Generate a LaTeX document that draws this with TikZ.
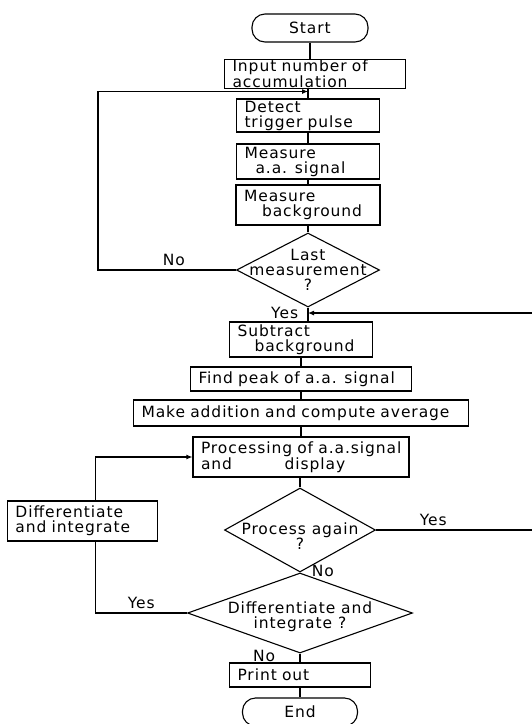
\documentclass[tikz,border=0pt]{standalone}
\usepackage{fontspec}
\setmainfont{DejaVu Sans}[LetterSpace=6]
\usepackage{tikz}
\usetikzlibrary{shapes.geometric, arrows.meta}

\begin{document}
\begin{tikzpicture}[x=1pt, y=-1pt, line width=1.1pt,
    every node/.style={font=\fontsize{15.5}{15}\selectfont},
    procbox/.style={draw, rectangle, align=left, inner xsep=8pt, inner ysep=0.5pt},
    termbox/.style={draw, rectangle, rounded corners=13pt, minimum width=116pt, minimum height=28pt},
    decision/.style={draw, diamond, inner sep=0pt},
    arrow/.style={-{Latex[length=6pt, width=5pt]}}]

    \useasboundingbox (0,0) rectangle (531,724);

    % accumulation loop
    \node[termbox] (start) at (310,28) {Start};
    \node[procbox, text width=165pt, minimum height=28pt] (input) at (315,74) {Input number of\\accumulation};
    \node[procbox, text width=127pt, minimum height=33pt] (detect) at (308,115.5) {Detect\\trigger pulse};
    \node[procbox, text width=127pt, minimum height=35pt] (sigmeas) at (308,161.5) {Measure\\\hspace*{11pt}a.a. signal};
    \node[procbox, text width=128pt, minimum height=40pt] (bgmeas) at (308,205) {Measure\\\hspace*{18pt}background};
    \node[decision, minimum width=143pt, minimum height=74pt,
          label={[align=center]center:Last\\measurement\\?}] (lastq) at (308,270) {};

    % evaluation
    \node[procbox, text width=127pt, minimum height=35pt] (subtract) at (301,339.5) {Subtract\\\hspace*{17pt}background};
    \node[procbox, text width=205pt, minimum height=24pt] (findpeak) at (301,379) {Find peak of a.a. signal};
    \node[procbox, text width=319pt, minimum height=26pt] (addavg) at (301,413) {Make addition and compute average};
    \node[procbox, text width=200pt, minimum height=40pt] (process) at (301,457) {Processing of a.a.signal\\and\hspace{3.4em}display};
    \node[decision, minimum width=151pt, minimum height=84pt,
          label={[align=center, yshift=-6pt]center:Process again\\?}] (again) at (300,530) {};
    \node[decision, minimum width=225pt, minimum height=80pt,
          label={[align=center, yshift=-4pt]center:Differentiate and\\integrate ?}] (diffq) at (300,613) {};
    \node[procbox, text width=134pt, minimum height=40pt] (diffbox) at (82.5,521) {Differentiate\\and integrate};
    \node[procbox, text width=125pt, minimum height=24pt] (print) at (300,675) {Print out};
    \node[termbox, minimum width=115pt] (stop) at (300,712) {End};

    \coordinate (loopin) at (308,91.5);
    \coordinate (yesin) at (308,313);
    \coordinate (rtrn) at (535,313);

    % main line
    \draw (start.south) -- (start.south |- input.north);
    \draw (detect.north |- input.south) -- (detect.north);
    \draw (detect) -- (sigmeas);
    \draw (sigmeas) -- (bgmeas);
    \draw (bgmeas) -- (lastq);
    \draw (lastq.south) -- node[left, pos=0.4, xshift=-6pt] (lastyes) {Yes} (lastq.south |- subtract.north);
    \draw (subtract.south -| findpeak.north) -- (findpeak.north);
    \draw (findpeak) -- (addavg);
    \draw (addavg) -- (process);
    \draw (again.north |- process.south) -- (again.north);
    \draw (diffq.south) -- (print);
    \draw (print) -- (stop);

    % branches
    \draw[arrow] (lastq.west) -- node[above, pos=0.45] (lastno) {No} ++(-138,0) |- (loopin);
    \draw[arrow] (again.east) -| node[above, pos=0.18] (againyes) {Yes} (rtrn) -- (yesin);
    \node[anchor=west] (againno) at ([xshift=8pt, yshift=2pt]again.south) {No};
    \draw (diffq.west) -| node[above, pos=0.25] (diffyes) {Yes} ([xshift=13pt]diffbox.south);
    \draw[arrow] ([xshift=13pt]diffbox.north) |- (process.west);
    \node[anchor=east] (diffno) at ([xshift=-21pt, yshift=-2pt]diffq.south) {No};

\end{tikzpicture}
\end{document}
